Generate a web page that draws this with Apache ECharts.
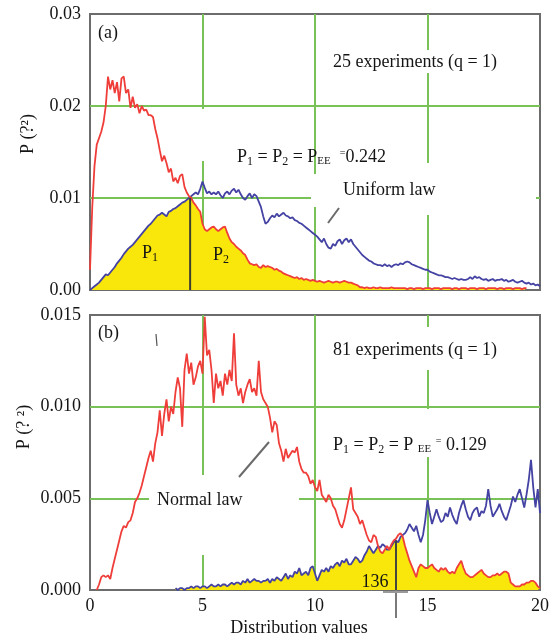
<!DOCTYPE html>
<html><head><meta charset="utf-8">
<script src="https://cdn.jsdelivr.net/npm/echarts@6/dist/echarts.min.js"></script>
<style>html,body{margin:0;padding:0;background:#fff}#c{width:558px;height:638px}</style>
</head><body><div id="c"></div><script>
// x grid (distribution values)
const xs = [
0,0.1,0.2,0.3,0.4,0.5,0.6,0.7,0.8,0.9,
1,1.1,1.2,1.3,1.4,1.5,1.6,1.7,1.8,1.9,
2,2.1,2.2,2.3,2.4,2.5,2.6,2.7,2.8,2.9,
3,3.1,3.2,3.3,3.4,3.5,3.6,3.7,3.8,3.9,
4,4.1,4.2,4.3,4.4,4.5,4.6,4.7,4.8,4.9,
5,5.1,5.2,5.3,5.4,5.5,5.6,5.7,5.8,5.9,
6,6.1,6.2,6.3,6.4,6.5,6.6,6.7,6.8,6.9,
7,7.1,7.2,7.3,7.4,7.5,7.6,7.7,7.8,7.9,
8,8.1,8.2,8.3,8.4,8.5,8.6,8.7,8.8,8.9,
9,9.1,9.2,9.3,9.4,9.5,9.6,9.7,9.8,9.9,
10,10.1,10.2,10.3,10.4,10.5,10.6,10.7,10.8,10.9,
11,11.1,11.2,11.3,11.4,11.5,11.6,11.7,11.8,11.9,
12,12.1,12.2,12.3,12.4,12.5,12.6,12.7,12.8,12.9,
13,13.1,13.2,13.3,13.4,13.5,13.6,13.7,13.8,13.9,
14,14.1,14.2,14.3,14.4,14.5,14.6,14.7,14.8,14.9,
15,15.1,15.2,15.3,15.4,15.5,15.6,15.7,15.8,15.9,
16,16.1,16.2,16.3,16.4,16.5,16.6,16.7,16.8,16.9,
17,17.1,17.2,17.3,17.4,17.5,17.6,17.7,17.8,17.9,
18,18.1,18.2,18.3,18.4,18.5,18.6,18.7,18.8,18.9,
19,19.1,19.2,19.3,19.4,19.5,19.6,19.7,19.8,19.9,
20];

// (a) 25 experiments: red curve
const topRed = [
0.0022,0.0090,0.0135,0.0158,0.0165,0.0172,0.0182,0.0200,0.0232,0.0218,
0.0228,0.0214,0.0226,0.0205,0.0230,0.0232,0.0214,0.0218,0.0198,0.0210,
0.0198,0.0202,0.0192,0.0200,0.0195,0.0196,0.0190,0.0190,0.0188,0.0175,
0.0165,0.0152,0.0140,0.0146,0.0138,0.0128,0.0132,0.0118,0.0122,0.0116,
0.0124,0.0126,0.0112,0.0106,0.0102,0.0100,0.0095,0.0092,0.0088,0.0085,
0.0072,0.0066,0.0064,0.0066,0.0068,0.0069,0.0066,0.0064,0.0066,0.0068,
0.0069,0.0062,0.0056,0.0052,0.0050,0.0047,0.0045,0.0043,0.0040,0.0038,
0.0033,0.0029,0.0028,0.0027,0.0028,0.0025,0.0024,0.0027,0.0025,0.0026,
0.0025,0.0024,0.0022,0.0023,0.0021,0.0020,0.0018,0.0017,0.0016,0.0015,
0.0014,0.0013,0.0014,0.0012,0.0013,0.0011,0.0012,0.0011,0.0010,0.0011,
0.0010,0.0009,0.0010,0.0009,0.0008,0.0009,0.0010,0.0009,0.0008,0.0009,
0.0009,0.0008,0.0009,0.0010,0.0009,0.0008,0.0008,0.0007,0.0006,0.0005,
0.0003,0.0003,0.0002,0.0003,0.0002,0.0002,0.0003,0.0002,0.0002,0.0003,
0.0002,0.0002,0.0002,0.0002,0.0003,0.0002,0.0002,0.0002,0.0002,0.0002,
0.0002,0.0001,0.0002,0.0002,0.0001,0.0002,0.0002,0.0002,0.0001,0.0002,
0.0002,0.0002,0.0001,0.0002,0.0002,0.0002,0.0001,0.0002,0.0002,0.0002,
0.0002,0.0001,0.0002,0.0002,0.0001,0.0002,0.0002,0.0002,0.0001,0.0002,
0.0002,0.0002,0.0001,0.0002,0.0002,0.0002,0.0001,0.0002,0.0002,0.0002,
0.0002,0.0001,0.0002,0.0002,0.0001,0.0002,0.0002,0.0002,0.0001,0.0002,
0.0002,0.0002,0.0001,0.0002,0.0002,'-','-','-','-','-',
'-'];

// (a) 25 experiments: blue curve (uniform law)
const topBlue = [
0.0000,0.0002,0.0004,0.0006,0.0008,0.0011,0.0014,0.0017,0.0016,0.0019,
0.0022,0.0025,0.0029,0.0032,0.0035,0.0039,0.0042,0.0045,0.0047,0.0049,
0.0052,0.0055,0.0058,0.0061,0.0064,0.0067,0.0070,0.0072,0.0075,0.0078,
0.0081,0.0082,0.0084,0.0082,0.0080,0.0085,0.0086,0.0088,0.0089,0.0091,
0.0093,0.0095,0.0096,0.0098,0.0100,0.0102,0.0104,0.0106,0.0104,0.0110,
0.0118,0.0111,0.0105,0.0107,0.0104,0.0106,0.0104,0.0107,0.0103,0.0100,
0.0105,0.0107,0.0104,0.0108,0.0110,0.0106,0.0109,0.0104,0.0100,0.0098,
0.0102,0.0105,0.0100,0.0104,0.0102,0.0096,0.0090,0.0080,0.0072,0.0074,
0.0078,0.0081,0.0079,0.0083,0.0080,0.0082,0.0084,0.0081,0.0080,0.0078,
0.0079,0.0076,0.0075,0.0073,0.0072,0.0070,0.0068,0.0066,0.0064,0.0062,
0.0060,0.0058,0.0055,0.0052,0.0056,0.0050,0.0046,0.0045,0.0050,0.0048,
0.0053,0.0055,0.0050,0.0054,0.0056,0.0052,0.0055,0.0050,0.0047,0.0044,
0.0041,0.0038,0.0036,0.0034,0.0032,0.0031,0.0029,0.0028,0.0027,0.0027,
0.0026,0.0028,0.0026,0.0027,0.0025,0.0027,0.0028,0.0027,0.0029,0.0028,
0.0030,0.0031,0.0030,0.0028,0.0027,0.0026,0.0025,0.0024,0.0023,0.0022,
0.0022,0.0020,0.0019,0.0018,0.0017,0.0016,0.0016,0.0015,0.0014,0.0014,
0.0013,0.0012,0.0013,0.0012,0.0011,0.0012,0.0011,0.0011,0.0012,0.0014,
0.0012,0.0015,0.0013,0.0014,0.0012,0.0011,0.0012,0.0010,0.0011,0.0012,
0.0010,0.0011,0.0011,0.0012,0.0010,0.0011,0.0009,0.0010,0.0011,0.0009,
0.0008,0.0009,0.0010,0.0008,0.0007,0.0008,0.0006,0.0007,0.0005,0.0006,
0.0004];

// (b) 81 experiments: red curve (normal law)
const botRed = [
'-','-','-',0.0000,0.0003,0.0007,0.0008,0.0007,0.0008,0.0006,
0.0012,0.0017,0.0022,0.0027,0.0032,0.0035,0.0034,0.0037,0.0038,0.0042,
0.0048,0.0050,0.0053,0.0057,0.0062,0.0067,0.0072,0.0076,0.0070,0.0080,
0.0086,0.0098,0.0084,0.0096,0.0104,0.0092,0.0100,0.0096,0.0108,0.0116,
0.0110,0.0089,0.0120,0.0129,0.0118,0.0124,0.0112,0.0116,0.0122,0.0125,
0.0118,0.0149,0.0128,0.0131,0.0120,0.0102,0.0118,0.0110,0.0114,0.0106,
0.0118,0.0112,0.0120,0.0114,0.0140,0.0112,0.0106,0.0110,0.0102,0.0108,
0.0112,0.0115,0.0108,0.0110,0.0106,0.0125,0.0108,0.0104,0.0102,0.0100,
0.0094,0.0086,0.0092,0.0090,0.0080,0.0076,0.0070,0.0077,0.0072,0.0074,
0.0076,0.0075,0.0078,0.0070,0.0066,0.0064,0.0064,0.0062,0.0058,0.0060,
0.0056,0.0054,0.0060,0.0052,0.0050,0.0048,0.0052,0.0050,0.0046,0.0044,
0.0040,0.0036,0.0034,0.0038,0.0044,0.0050,0.0056,0.0044,0.0042,0.0040,
0.0036,0.0038,0.0034,0.0030,0.0027,0.0026,0.0030,0.0029,0.0024,0.0021,
0.0020,0.0022,0.0024,0.0022,0.0025,0.0027,0.0028,0.0030,0.0031,0.0029,
0.0024,0.0020,0.0016,0.0013,0.0010,0.0007,0.0012,0.0014,0.0013,0.0012,
0.0012,0.0013,0.0014,0.0012,0.0011,0.0010,0.0012,0.0011,0.0012,0.0010,
0.0009,0.0010,0.0009,0.0012,0.0014,0.0016,0.0012,0.0009,0.0008,0.0007,
0.0007,0.0008,0.0009,0.0010,0.0011,0.0009,0.0008,0.0007,0.0007,0.0008,
0.0008,0.0009,0.0008,0.0009,0.0010,0.0010,0.0009,0.0004,0.0003,0.0002,
0.0002,0.0002,0.0003,0.0003,0.0004,0.0004,0.0005,0.0005,0.0004,0.0002,
0.0001];

// (b) 81 experiments: blue curve
const botBlue = [
'-','-','-','-','-','-','-','-','-','-',
'-','-','-','-','-','-','-','-','-','-',
'-','-','-','-','-','-','-','-','-','-',
'-','-','-','-','-','-','-','-',0.0001,0.0000,
0.0001,0.0001,0.0000,0.0001,0.0001,0.0002,0.0001,0.0002,0.0002,0.0001,
0.0002,0.0002,0.0001,0.0002,0.0003,0.0002,0.0002,0.0003,0.0002,0.0003,
0.0003,0.0002,0.0003,0.0004,0.0003,0.0004,0.0004,0.0003,0.0005,0.0004,
0.0006,0.0004,0.0005,0.0006,0.0005,0.0005,0.0004,0.0005,0.0005,0.0006,
0.0004,0.0006,0.0005,0.0007,0.0006,0.0005,0.0007,0.0009,0.0006,0.0008,
0.0007,0.0010,0.0009,0.0012,0.0008,0.0009,0.0010,0.0008,0.0012,0.0013,
0.0009,0.0005,0.0008,0.0011,0.0010,0.0012,0.0010,0.0013,0.0012,0.0014,
0.0015,0.0013,0.0016,0.0015,0.0017,0.0014,0.0014,0.0016,0.0018,0.0017,
0.0015,0.0016,0.0019,0.0021,0.0024,0.0022,0.0020,0.0022,0.0024,0.0023,
0.0025,0.0024,0.0022,0.0022,0.0024,0.0026,0.0027,0.0026,0.0029,0.0030,
0.0031,0.0033,0.0036,0.0034,0.0032,0.0035,0.0030,0.0026,0.0030,0.0038,
0.0049,0.0042,0.0036,0.0040,0.0044,0.0040,0.0037,0.0038,0.0042,0.0040,
0.0045,0.0041,0.0038,0.0036,0.0042,0.0046,0.0049,0.0044,0.0040,0.0038,
0.0042,0.0044,0.0045,0.0040,0.0043,0.0042,0.0046,0.0055,0.0046,0.0040,
0.0042,0.0044,0.0047,0.0043,0.0040,0.0038,0.0042,0.0046,0.0051,0.0048,
0.0052,0.0055,0.0050,0.0045,0.0052,0.0060,0.0071,0.0056,0.0045,0.0055,
0.0042];

const xTicks = {min: 0, max: 20, step: 5};
const topY = {min: 0, max: 0.03, step: 0.01};
const botY = {min: 0, max: 0.015, step: 0.005};
// crossing points of the two curves (equal-error points)
const crossTop = [4.45, 0.0100];
const crossBot = [13.6, 0.0027];

const FONT = 'Liberation Serif';
const RED = '#ef3e3a', BLUE = '#4442a2', YEL = '#f9e60a', GREEN = '#78c258', BORDER = '#6c6c6c', INK = '#151515';

function pairs(ys) { return xs.map((x, i) => [x, ys[i]]); }
function overlap(a, b) {
  return xs.map((x, i) => (a[i] === '-' || b[i] === '-') ? [x, '-'] : [x, Math.min(a[i], b[i])]);
}

function xAxisOpt(gi, labels) {
  return {
    gridIndex: gi, type: 'value', min: xTicks.min, max: xTicks.max, interval: xTicks.step,
    axisLine: {show: false}, axisTick: {show: false},
    axisLabel: {show: labels, color: INK, fontSize: 18, fontFamily: FONT, margin: 7},
    splitLine: {show: true, showMinLine: false, showMaxLine: false, lineStyle: {color: GREEN, width: 2}}
  };
}
function yAxisOpt(gi, r, dec) {
  return {
    gridIndex: gi, type: 'value', min: r.min, max: r.max, interval: r.step,
    axisLine: {show: false}, axisTick: {show: false},
    axisLabel: {color: INK, fontSize: 18, fontFamily: FONT, margin: 9, padding: [0, 0, 8, 0],
      formatter: v => v.toFixed(dec)},
    splitLine: {show: true, showMinLine: false, showMaxLine: false, lineStyle: {color: GREEN, width: 2}}
  };
}
function lineSeries(gi, data, color, z) {
  return {type: 'line', xAxisIndex: gi, yAxisIndex: gi, data: data, symbol: 'none', silent: true,
    lineStyle: {color: color, width: 1.8}, z: z, animation: false};
}
function fillSeries(gi, data) {
  return {type: 'line', xAxisIndex: gi, yAxisIndex: gi, data: data, symbol: 'none', silent: true,
    lineStyle: {width: 0, opacity: 0}, areaStyle: {color: YEL, opacity: 1}, z: 2, animation: false};
}

const chart = echarts.init(document.getElementById('c'), null, {renderer: 'canvas'});
chart.setOption({
  animation: false,
  grid: [
    {left: 90, top: 14, width: 450, height: 276, show: true, borderColor: BORDER, borderWidth: 2, backgroundColor: 'transparent'},
    {left: 90, top: 315, width: 450, height: 275, show: true, borderColor: BORDER, borderWidth: 2, backgroundColor: 'transparent'}
  ],
  xAxis: [xAxisOpt(0, false), xAxisOpt(1, true)],
  yAxis: [yAxisOpt(0, topY, 2), yAxisOpt(1, botY, 3)],
  series: [
    fillSeries(0, overlap(topRed, topBlue)),
    lineSeries(0, pairs(topBlue), BLUE, 3),
    lineSeries(0, pairs(topRed), RED, 4),
    fillSeries(1, overlap(botRed, botBlue)),
    lineSeries(1, pairs(botBlue), BLUE, 3),
    lineSeries(1, pairs(botRed), RED, 4)
  ]
});

// annotations
const rich = {
  n: {fontSize: 18, fontFamily: FONT, lineHeight: 24, fill: INK},
  s: {fontSize: 12, fontFamily: FONT, lineHeight: 12, verticalAlign: 'top', padding: [11, 0, 0, 0], fill: INK},
  e: {fontSize: 11, fontFamily: FONT, lineHeight: 11, verticalAlign: 'top', padding: [11, 0, 0, 0], fill: INK},
  q: {fontSize: 10, fontFamily: FONT, lineHeight: 10, verticalAlign: 'top', padding: [3, 0, 0, 0], fill: INK}
};
function txt(x, y, text, align, extra) {
  return Object.assign({type: 'text', x: x, y: y, z: 10, silent: true,
    style: {text: text, rich: rich, fill: INK, font: '18px "' + FONT + '"', align: align || 'left', verticalAlign: 'middle'}}, extra || {});
}
function mask(x, y, w, h) {
  return {type: 'rect', z: 1, silent: true, shape: {x: x, y: y, width: w, height: h}, style: {fill: '#fff'}};
}
function seg(x1, y1, x2, y2, color, w, z) {
  return {type: 'line', z: z || 6, silent: true, shape: {x1: x1, y1: y1, x2: x2, y2: y2}, style: {stroke: color, lineWidth: w}};
}

const pt0 = chart.convertToPixel({gridIndex: 0}, crossTop);
const pb0 = chart.convertToPixel({gridIndex: 0}, [crossTop[0], 0]);
const pt1 = chart.convertToPixel({gridIndex: 1}, crossBot);
const pb1 = chart.convertToPixel({gridIndex: 1}, [crossBot[0], 0]);

chart.setOption({
  graphic: [
    // gaps in grid lines
    mask(199, 109, 7, 52), mask(311, 174, 8, 33), mask(312, 195, 224, 7),
    mask(424, 50, 8, 23), mask(424, 163, 8, 52),
    mask(199, 475, 7, 80), mask(149, 494, 150, 8),
    mask(424, 327, 8, 43), mask(424, 409, 8, 48),
    // crossing markers
    seg(pt0[0], pt0[1], pb0[0], pb0[1], '#3f3f30', 2, 6),
    seg(pt1[0], pt1[1], pb1[0], pb1[1], '#454540', 2, 6),
    seg(pb1[0], pb1[1], pb1[0], pb1[1] + 28, '#7a7a7a', 2, 6),
    seg(pb1[0] - 13, pb1[1] + 2, pb1[0] + 12, pb1[1] + 2, '#9a9a9a', 2, 6),
    // leader lines
    seg(328, 223, 339, 208, '#6a6a6a', 2, 6),
    seg(239, 477, 269, 442, '#6a6a6a', 2, 6),
    seg(156, 334, 157, 346, '#555', 1.2, 6),
    // texts, panel (a)
    txt(98, 33, '(a)'),
    txt(333, 62, '25 experiments (q = 1)'),
    txt(237, 157, '{n|P}{s|1}{n| = P}{s|2}{n| = P}{e|EE}{n|  }{q|=}{n|0.242}'),
    txt(343, 190, 'Uniform law'),
    txt(142, 253, '{n|P}{s|1}'),
    txt(213, 255, '{n|P}{s|2}'),
    // texts, panel (b)
    txt(98, 333, '(b)'),
    txt(333, 350, '81 experiments (q = 1)'),
    txt(333, 445, '{n|P}{s|1}{n| = P}{s|2}{n| = P }{e|EE}{n| }{q|=}{n| 0.129}'),
    txt(157, 500, 'Normal law'),
    txt(375, 582, '136', 'center'),
    // axis titles
    txt(28, 134, 'P (?²)', 'center', {rotation: Math.PI / 2}),
    txt(24, 427, 'P (? ²)', 'center', {rotation: Math.PI / 2}),
    txt(299, 628, 'Distribution values', 'center')
  ]
});
</script></body></html>
